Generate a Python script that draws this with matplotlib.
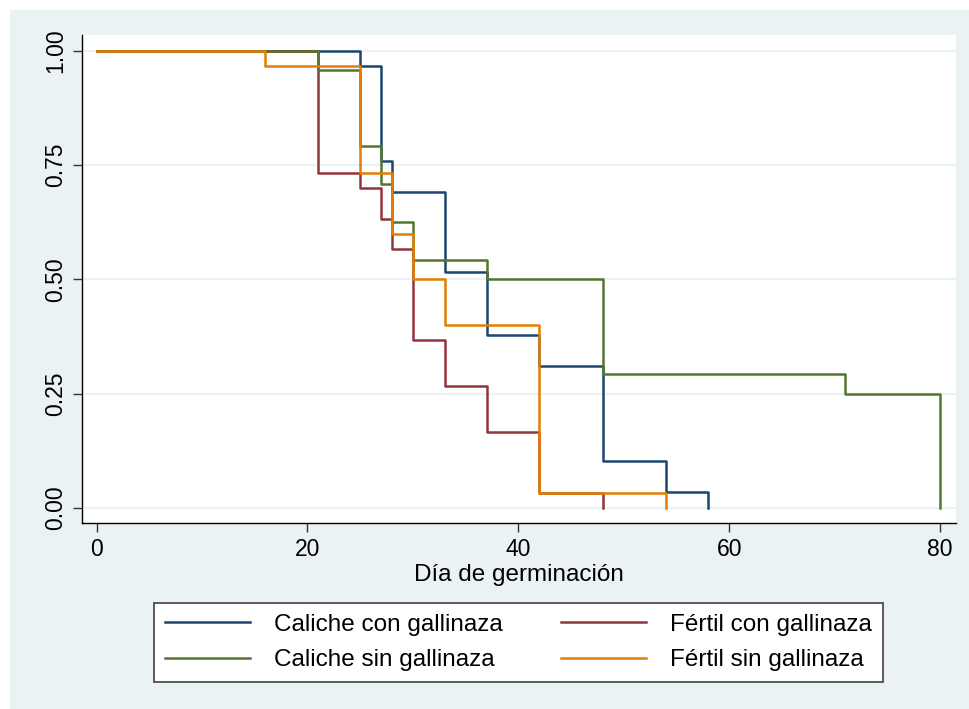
import matplotlib
matplotlib.use("Agg")
import matplotlib.pyplot as plt
from matplotlib.patches import Rectangle

plt.rcParams['font.family'] = ['Liberation Sans', 'DejaVu Sans']

# Kaplan-Meier steps (day, survival after that day)
caliche_con_t = [0, 25, 27, 28, 33, 37, 42, 48, 54, 58]
caliche_con_s = [1.0, 0.966, 0.759, 0.690, 0.517, 0.379, 0.310, 0.103, 0.034, 0.0]

fertil_con_t = [0, 21, 25, 27, 28, 30, 33, 37, 42, 48]
fertil_con_s = [1.0, 0.733, 0.700, 0.633, 0.567, 0.367, 0.267, 0.167, 0.033, 0.0]

caliche_sin_t = [0, 21, 25, 27, 28, 30, 37, 48, 71, 80]
caliche_sin_s = [1.0, 0.958, 0.792, 0.708, 0.625, 0.542, 0.500, 0.292, 0.250, 0.0]

fertil_sin_t = [0, 16, 25, 28, 30, 33, 42, 54]
fertil_sin_s = [1.0, 0.967, 0.733, 0.600, 0.500, 0.400, 0.033, 0.0]

labels = ["Caliche con gallinaza", "Fértil con gallinaza",
          "Caliche sin gallinaza", "Fértil sin gallinaza"]
colors = ["#1a476f", "#90353b", "#55752f", "#e37e00"]
x_ticks = [0, 20, 40, 60, 80]
y_ticks = [0.0, 0.25, 0.5, 0.75, 1.0]

bg = "#eaf2f3"

fig = plt.figure(figsize=(9.7, 7.09), dpi=100, facecolor="white")
fig.patches.append(Rectangle((10 / 970, 0), 1, 1 - 10 / 709,
                             transform=fig.transFigure, facecolor=bg,
                             edgecolor="none", zorder=-10))

ax = fig.add_axes([81.7 / 970, 1 - 523.3 / 709, (956 - 81.7) / 970, (523.3 - 34.7) / 709])
ax.set_facecolor("white")

series = [(caliche_con_t, caliche_con_s), (fertil_con_t, fertil_con_s),
          (caliche_sin_t, caliche_sin_s), (fertil_sin_t, fertil_sin_s)]
handles = []
for (t, s), lab, col in zip(series, labels, colors):
    h, = ax.step(t, s, where="post", color=col, lw=1.8, label=lab)
    handles.append(h)

for y in y_ticks:
    ax.axhline(y, color=bg, lw=1.6, zorder=0)

ax.set_xlim(-1.42, 81.52)
ax.set_ylim(-0.0335, 1.035)
ax.set_xticks(x_ticks)
ax.set_yticks(y_ticks)
ax.set_yticklabels([f"{v:.2f}" for v in y_ticks], rotation=90, va="center")
ax.tick_params(axis="both", direction="out", length=6.5, width=1.0,
               color="#333333", labelsize=16.5, pad=4)
for side in ["top", "right"]:
    ax.spines[side].set_visible(False)
for side in ["left", "bottom"]:
    ax.spines[side].set_color("black")
    ax.spines[side].set_linewidth(1.0)

ax.set_xlabel("Día de germinación", fontsize=17.5, labelpad=2)

# row-major order like Stata: blue, red / green, orange
leg = fig.legend([handles[0], handles[2], handles[1], handles[3]],
                 [labels[0], labels[2], labels[1], labels[3]],
                 ncol=2, loc="center", bbox_to_anchor=(518.5 / 970, 1 - 642.5 / 709),
                 fontsize=17.5, frameon=True, fancybox=False, framealpha=1,
                 edgecolor="#404040", handlelength=3.5, handletextpad=1.0,
                 columnspacing=2.4, labelspacing=0.55, borderpad=0.45)
leg.get_frame().set_linewidth(1.2)

fig.savefig("out.png", dpi=100, facecolor=fig.get_facecolor())
